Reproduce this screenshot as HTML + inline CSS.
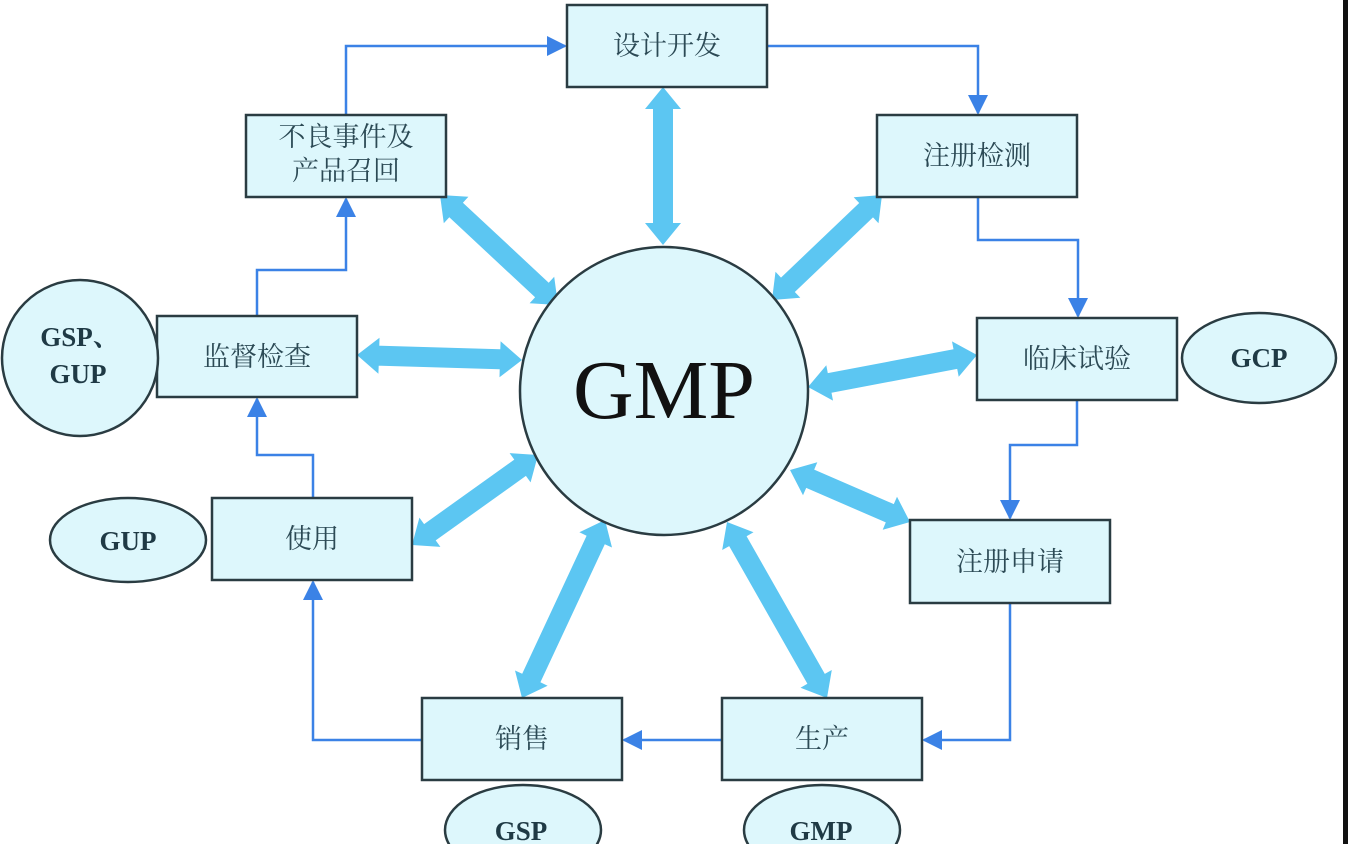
<!DOCTYPE html>
<html><head><meta charset="utf-8"><style>
html,body{margin:0;padding:0;background:#fff;width:1348px;height:844px;overflow:hidden}
svg{display:block}
.cn{font-family:"Liberation Serif","Noto Serif CJK SC",serif;font-size:27px;fill:#2c4a55}
.en{font-family:"Liberation Serif","Noto Serif CJK SC",serif;font-size:27px;font-weight:bold;fill:#1f3a45}
</style></head><body>
<svg id="s" width="1348" height="844" viewBox="0 0 1348 844" xmlns="http://www.w3.org/2000/svg">
<defs><marker id="a" viewBox="0 0 10 10" refX="9" refY="5" markerWidth="20" markerHeight="20" markerUnits="userSpaceOnUse" orient="auto"><path d="M0,0L10,5L0,10z" fill="#3b82e6"/></marker></defs>
<rect x="1343" y="0" width="5" height="844" fill="#111"/>
<g id="thick" fill="#5cc6f2"></g>
<g fill="none" stroke="#3b82e6" stroke-width="2.5" marker-end="url(#a)">
<polyline points="346,115 346,46 565,46"/>
<polyline points="767,46 978,46 978,113"/>
<polyline points="978,197 978,240 1078,240 1078,316"/>
<polyline points="1077,400 1077,445 1010,445 1010,518"/>
<polyline points="1010,603 1010,740 924,740"/>
<polyline points="722,740 624,740"/>
<polyline points="422,740 313,740 313,582"/>
<polyline points="313,498 313,455 257,455 257,399"/>
<polyline points="257,316 257,270 346,270 346,199"/>
</g>
<g fill="#ddf7fc" stroke="#2a3c42" stroke-width="2.5">
<circle cx="664" cy="391" r="144"/>
<rect x="567" y="5" width="200" height="82"/>
<rect x="246" y="115" width="200" height="82"/>
<rect x="877" y="115" width="200" height="82"/>
<rect x="157" y="316" width="200" height="81"/>
<rect x="977" y="318" width="200" height="82"/>
<rect x="212" y="498" width="200" height="82"/>
<rect x="910" y="520" width="200" height="83"/>
<rect x="422" y="698" width="200" height="82"/>
<rect x="722" y="698" width="200" height="82"/>
<ellipse cx="80" cy="358" rx="78" ry="78"/>
<ellipse cx="1259" cy="358" rx="77" ry="45"/>
<ellipse cx="128" cy="540" rx="78" ry="42"/>
<ellipse cx="523" cy="830" rx="78" ry="45"/>
<ellipse cx="822" cy="830" rx="78" ry="45"/>
</g>
<g class="cn" text-anchor="middle">
<text x="667" y="55">设计开发</text>
<text x="346" y="146">不良事件及</text>
<text x="346" y="180">产品召回</text>
<text x="977" y="165">注册检测</text>
<text x="257" y="366">监督检查</text>
<text x="1077" y="368">临床试验</text>
<text x="312" y="548">使用</text>
<text x="1010" y="571">注册申请</text>
<text x="522" y="748">销售</text>
<text x="822" y="748">生产</text>
</g>
<g class="en" text-anchor="middle">
<text x="80" y="346">GSP、</text>
<text x="78" y="383">GUP</text>
<text x="1259" y="367">GCP</text>
<text x="128" y="550">GUP</text>
<text x="521" y="840">GSP</text>
<text x="821" y="840">GMP</text>
</g>
<text x="664" y="418" text-anchor="middle" font-family="Liberation Serif,serif" font-size="84" fill="#111">GMP</text>
</svg>
<script>
var arrows=[[663,87,663,245],[440,195,558,305],[882,195,772,300],[357,355,522,360],[977,355,808,387],[412,545,538,455],[910,522,790,470],[522,698,605,520],[827,698,727,522]];
var g=document.getElementById('thick'),ns='http://www.w3.org/2000/svg';
arrows.forEach(function(a){
var x1=a[0],y1=a[1],x2=a[2],y2=a[3],dx=x2-x1,dy=y2-y1,L=Math.hypot(dx,dy),ux=dx/L,uy=dy/L,px=-uy,py=ux,w=10,hw=18,hl=22;
function p(t,o){return (x1+ux*t+px*o).toFixed(1)+','+(y1+uy*t+py*o).toFixed(1)}
var pts=[p(0,0),p(hl,hw),p(hl,w),p(L-hl,w),p(L-hl,hw),p(L,0),p(L-hl,-hw),p(L-hl,-w),p(hl,-w),p(hl,-hw)];
var e=document.createElementNS(ns,'polygon');e.setAttribute('points',pts.join(' '));g.appendChild(e);});
</script>
</body></html>
